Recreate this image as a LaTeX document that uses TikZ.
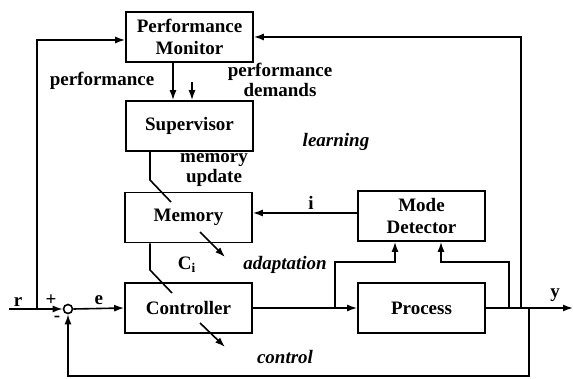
\documentclass[tikz,border=0pt]{standalone}
\usepackage{fontspec}
\setmainfont{Liberation Serif}
\usetikzlibrary{arrows.meta}

\begin{document}
\begin{tikzpicture}[x=0.5pt,y=-0.5pt,line width=0.8pt,
    >={Latex[length=5pt,width=3.5pt]},
    block/.style={draw,minimum width=63.5pt,minimum height=25pt,inner sep=2pt,
      align=center,font=\bfseries\fontsize{9.5}{11}\selectfont},
    lbl/.style={inner sep=0pt,align=center,font=\bfseries\fontsize{9.5}{8.5}\selectfont},
    act/.style={inner sep=0pt,font=\bfseries\itshape\fontsize{9.5}{9.5}\selectfont}]
  \useasboundingbox (0,0) rectangle (573,379);
  \node[block] (monitor) at (189.5,37) {Performance\\Monitor};
  \node[block] (sup) at (189.5,126) {Supervisor};
  \node[block] (mem) at (188.5,217.5) {Memory};
  \node[block] (ctrl) at (188.5,308) {Controller};
  \node[block] (det) at (421.5,216) {Mode\\Detector};
  \node[block] (proc) at (421.5,308) {Process};
  \node[draw,circle,inner sep=0pt,minimum size=4.5pt] (sum) at (68,309) {};

  \coordinate (rin) at (9,309);
  \coordinate (rtap) at (37,309);
  \coordinate (dtap) at (335,308);
  \coordinate (ytap) at (509,308);
  \coordinate (mtap) at (521,308);
  \coordinate (ftap) at (529,308);
  \coordinate (yout) at (573,308);
  \coordinate (dem) at (192,82);

  \draw (rin) -- (rtap);
  \draw[->] (rtap) -- (sum.west);
  \draw[->] (rtap) |- ([yshift=-1.5pt]monitor.west);
  \draw[->] (sum.east) -- (ctrl.west) node[lbl,midway,above=1.5pt] (e) {e};
  \draw[->] (ctrl.east) -- (proc.west);
  \draw[->] (proc.east) -- (yout);
  \draw[->] (dtap) -- (335,262) -| ([xshift=-13.25pt]det.south);
  \draw[->] (ytap) -- (509,262) -| ([xshift=9.75pt]det.south);
  \draw[->] (mtap) |- (monitor.east);
  \draw[->] (ftap) -- (529,376) -| (sum.south);
  \draw[->] ([yshift=1.5pt]det.west) -- ([yshift=1.5pt]det.west -| mem.east);
  \draw[->] (monitor.south -| 173,0) -- (sup.north -| 173,0);
  \draw[->] (dem) -- (dem |- sup.north);
  \draw (sup.south -| 150,0) -- (150,180) -- (171,202);
  \draw (mem.south -| 150,0) -- (150,270) -- (172,293);
  \draw[->] (200,232) -- (225,257);
  \draw[->] (200,323) -- (225,347);

  \node[lbl] (r) at (18,302) {r};
  \node[lbl] (plus) at (51,300) {+};
  \node[lbl] (minus) at (57,319) {-};
  \node[lbl] (y) at (555,295) {y};
  \node[lbl] (i) at (311,203) {i};
  \node[lbl] (ci) at (187,265) {C\textsubscript{i}};
  \node[lbl] (perf) at (102,81) {performance};
  \node[lbl] (demands) at (280,80) {performance\\demands};
  \node[lbl] (update) at (214,170) {memory\\update};
  \node[act] (learning) at (336,142) {learning};
  \node[act] (adaptation) at (285,265) {adaptation};
  \node[act] (control) at (285,357) {control};
\end{tikzpicture}
\end{document}
